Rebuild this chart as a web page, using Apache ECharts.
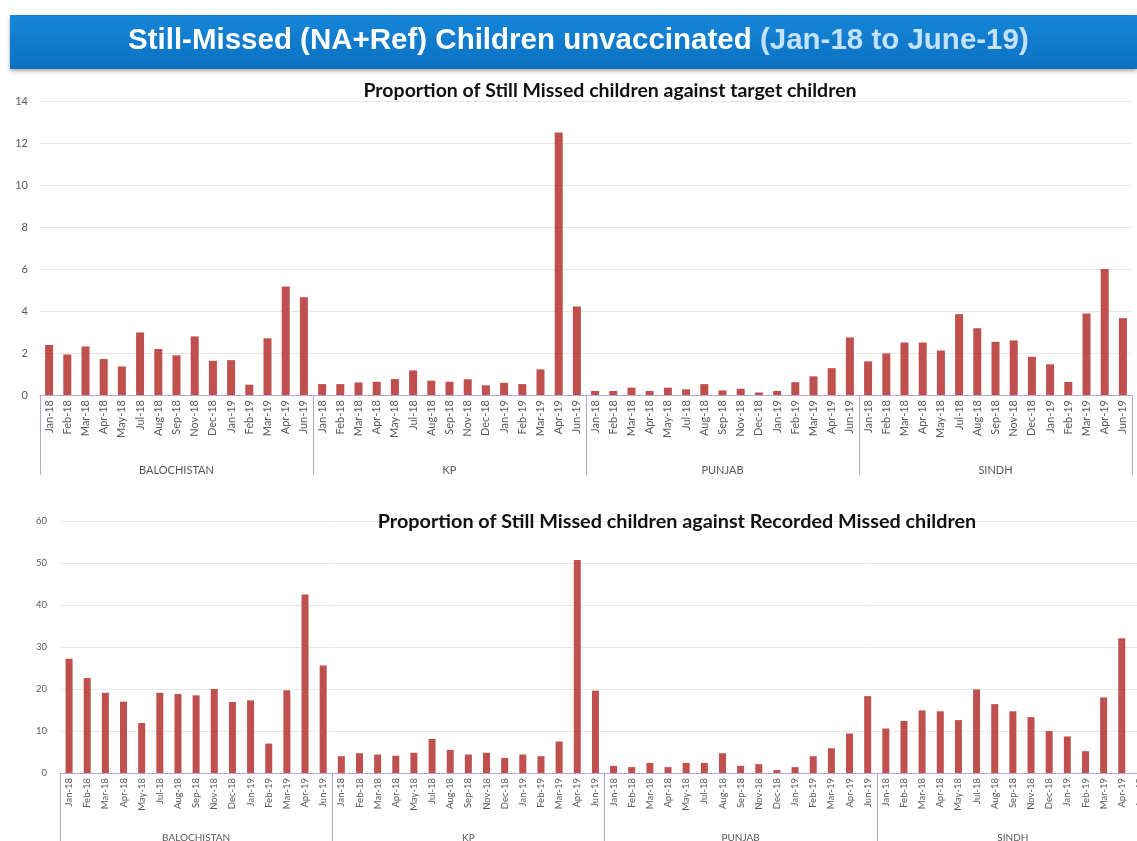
<!DOCTYPE html>
<html>
<head>
<meta charset="utf-8">
<script src="https://cdn.jsdelivr.net/npm/echarts@6/dist/echarts.min.js"></script>
<style>
  html, body { margin: 0; padding: 0; background: #ffffff; }
  #chart { width: 1137px; height: 841px; }
</style>
</head>
<body>
<div id="chart"></div>
<script>
// months shown inside each province group
const months = ['Jan-18', 'Feb-18', 'Mar-18', 'Apr-18', 'May-18', 'Jul-18', 'Aug-18', 'Sep-18',
                'Nov-18', 'Dec-18', 'Jan-19', 'Feb-19', 'Mar-19', 'Apr-19', 'Jun-19'];
const regions = ['BALOCHISTAN', 'KP', 'PUNJAB', 'SINDH'];

// proportion of still missed children against target children
const balochistanTarget = [2.38, 1.93, 2.31, 1.71, 1.36, 2.98, 2.19, 1.89, 2.79, 1.63, 1.66, 0.49, 2.70, 5.17, 4.65];
const kpTarget          = [0.52, 0.52, 0.60, 0.63, 0.76, 1.17, 0.68, 0.63, 0.75, 0.46, 0.58, 0.52, 1.22, 12.5, 4.22];
const punjabTarget      = [0.19, 0.19, 0.35, 0.19, 0.35, 0.27, 0.52, 0.22, 0.30, 0.12, 0.19, 0.61, 0.89, 1.28, 2.74];
const sindhTarget       = [1.60, 1.98, 2.50, 2.50, 2.12, 3.85, 3.18, 2.53, 2.60, 1.82, 1.46, 0.62, 3.88, 6.00, 3.66];

// proportion of still missed children against recorded missed children
// (last Sindh bar is cut off in the source picture)
const balochistanRecorded = [27.2, 22.6, 19.1, 17.0, 11.9, 19.1, 18.8, 18.5, 20.0, 16.9, 17.3, 7.0, 19.7, 42.5, 25.6];
const kpRecorded          = [4.0, 4.7, 4.4, 4.1, 4.8, 8.1, 5.5, 4.4, 4.8, 3.6, 4.4, 4.0, 7.5, 50.7, 19.6];
const punjabRecorded      = [1.7, 1.4, 2.4, 1.4, 2.4, 2.4, 4.7, 1.7, 2.1, 0.7, 1.4, 4.0, 5.9, 9.4, 18.3];
const sindhRecorded       = [10.6, 12.4, 14.9, 14.7, 12.6, 19.9, 16.4, 14.7, 13.3, 10.0, 8.7, 5.2, 18.0, 32.1, null];

const topTicks = { min: 0, max: 14, interval: 2 };
const bottomTicks = { min: 0, max: 60, interval: 10 };

(function () {
    const chart = echarts.init(document.getElementById('chart'));

    const BAR = '#c0504d';
    const AXIS = '#b9a3dc';
    const LABEL = '#595959';
    const GRID = '#e8e8e8';
    const FONT = 'Lato, "Open Sans", sans-serif';
    const TITLE_FONT = '"Liberation Sans", Arial, sans-serif';

    // 按省份重复月份，得到完整的类目
    const categories = regions.flatMap(() => months);
    const targetData = [].concat(balochistanTarget, kpTarget, punjabTarget, sindhTarget);
    const recordedData = [].concat(balochistanRecorded, kpRecorded, punjabRecorded, sindhRecorded);

    function monthAxis(gridIndex, fontSize) {
        return {
            type: 'category',
            gridIndex: gridIndex,
            data: categories,
            axisLine: { lineStyle: { color: AXIS, width: 1 } },
            axisTick: { show: false },
            axisLabel: {
                interval: 0, rotate: 90, margin: 5,
                color: LABEL, fontSize: fontSize, fontFamily: FONT
            }
        };
    }

    function groupAxis(gridIndex, tickLen, labelMargin, fontSize) {
        return {
            type: 'category',
            gridIndex: gridIndex,
            data: regions,
            position: 'bottom',
            axisLine: { lineStyle: { color: AXIS, width: 1 } },
            axisTick: { show: true, length: tickLen, lineStyle: { color: AXIS, width: 1 } },
            axisLabel: { interval: 0, margin: labelMargin, color: LABEL, fontSize: fontSize, fontFamily: FONT },
            splitLine: { show: false }
        };
    }

    function valueAxis(gridIndex, ticks, fontSize, margin) {
        return {
            type: 'value',
            gridIndex: gridIndex,
            min: ticks.min, max: ticks.max, interval: ticks.interval,
            axisLine: { show: false },
            axisTick: { show: false },
            axisLabel: { color: LABEL, fontSize: fontSize, fontFamily: FONT, margin: margin },
            splitLine: { lineStyle: { color: GRID, width: 1 } }
        };
    }

    const option = {
        backgroundColor: '#ffffff',
        animation: false,
        title: [
            {
                text: 'Proportion of Still Missed children against target children',
                left: 605, top: 76, textAlign: 'center',
                textStyle: { fontFamily: FONT, fontWeight: 'bold', fontSize: 19.5, color: '#111' }
            },
            {
                text: 'Proportion of Still Missed children against Recorded Missed children',
                left: 672, top: 507, textAlign: 'center',
                textStyle: { fontFamily: FONT, fontWeight: 'bold', fontSize: 19.8, color: '#111' }
            }
        ],
        grid: [
            { left: 40, top: 101, width: 1092, height: 294, outerBoundsMode: 'none' },
            // 下图在原图中右侧被裁切，网格延伸到画布之外
            { left: 60, top: 521, width: 1089, height: 252, outerBoundsMode: 'none' }
        ],
        xAxis: [
            monthAxis(0, 11),
            groupAxis(0, 80, 70, 11),
            monthAxis(1, 9.5),
            groupAxis(1, 80, 60, 10)
        ],
        yAxis: [
            valueAxis(0, topTicks, 11, 12),
            valueAxis(1, bottomTicks, 9.5, 13)
        ],
        series: [
            {
                type: 'bar', xAxisIndex: 0, yAxisIndex: 0,
                data: targetData, barWidth: 8,
                itemStyle: { color: BAR }
            },
            {
                type: 'bar', xAxisIndex: 2, yAxisIndex: 1,
                data: recordedData, barWidth: 7,
                itemStyle: { color: BAR }
            }
        ],
        graphic: [
            {
                type: 'rect', left: 10, top: 15, z: 10,
                shape: { width: 1127, height: 54 },
                style: {
                    fill: new echarts.graphic.LinearGradient(0, 0, 0, 1, [
                        { offset: 0, color: '#1787d8' },
                        { offset: 1, color: '#0a70c2' }
                    ]),
                    shadowBlur: 4, shadowOffsetY: 2, shadowColor: 'rgba(0,0,0,0.35)'
                }
            },
            {
                type: 'text', left: 128, top: 26, z: 11,
                style: {
                    text: '{a|Still-Missed (NA+Ref) Children unvaccinated}{b| (Jan-18 to June-19)}',
                    rich: {
                        a: { fill: '#ffffff', fontSize: 29.5, fontWeight: 'bold', fontFamily: TITLE_FONT },
                        b: { fill: '#c3e2f7', fontSize: 29.5, fontWeight: 'bold', fontFamily: TITLE_FONT }
                    }
                }
            }
        ]
    };

    chart.setOption(option);
})();
</script>
</body>
</html>
